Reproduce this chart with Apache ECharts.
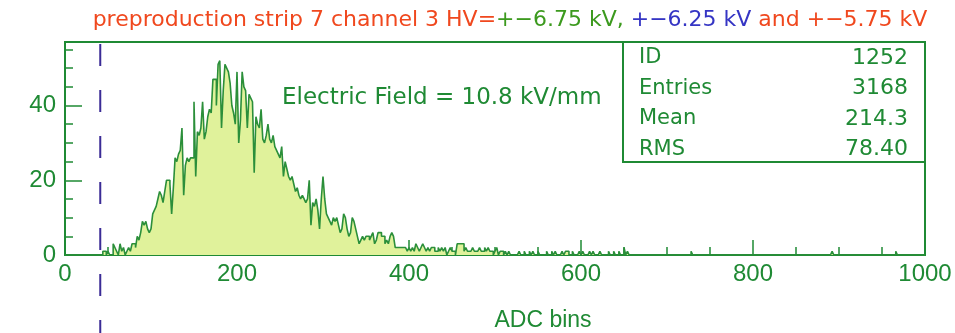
<!DOCTYPE html>
<html><head><meta charset="utf-8">
<script src="https://cdn.jsdelivr.net/npm/echarts@6/dist/echarts.min.js"></script>
<style>html,body{margin:0;padding:0;background:#fff}#c{width:955px;height:333px}</style>
</head><body><div id="c"></div>
<script>
// ---- data ----
const binWidth = 2;          // ADC units per bin
const xRange = [0, 1000];
const yRange = [0, 57];
const xLabelTicks = [0, 200, 400, 600, 800, 1000];
const yLabelTicks = [0, 20, 40];
const cutValue = 41;         // dashed vertical line position (ADC)
const counts = [
  0,0,0,0,0,0,0,0,0,0,
  0,0,0,0,0,0,0,0,0,0,
  0,0,1,1,0,1,0,0,3,2,
  1,0,3,1,2,0,1,2,1,3,
  3,2,5,4,6,9,8,9,7,6,
  7,11,12,13,15,17,16,14,17,20,
  20,19,11,18,26,25,27,28,34,16,
  24,26,25,26,26,41,21,33,32,34,
  41,31,33,37,39,38,47,47,40,51,
  52,34,44,51,50,49,46,40,38,35,
  49,30,36,49,45,44,34,43,42,41,
  22,37,35,34,39,31,30,32,35,31,
  30,32,29,28,27,26,29,21,25,23,
  21,20,21,19,17,18,16,15,16,15,
  14,15,20,8,14,13,15,12,7,15,
  21,15,11,10,9,8,10,9,10,8,
  6,7,11,10,7,5,6,10,9,7,
  5,3,4,5,4,5,5,4,5,6,
  3,4,6,6,5,5,3,4,3,5,
  6,5,2,2,2,2,2,2,2,1,
  2,1,2,1,3,2,1,2,3,2,
  1,2,1,2,2,1,1,2,1,2,
  1,2,0,1,2,1,1,0,3,3,
  3,3,1,2,1,1,1,2,1,1,
  1,2,1,1,2,1,2,1,1,0,
  1,2,0,1,1,0,1,0,1,0,
  0,0,0,0,1,0,0,1,0,0,
  1,0,1,0,0,1,0,0,0,0,
  1,0,0,1,0,1,0,0,0,1,
  0,1,1,0,0,1,0,0,0,1,
  0,1,0,0,0,1,0,1,0,0,
  0,1,0,0,0,0,1,0,0,1,
  0,0,1,0,0,2,0,1,0,0,
  0,0,0,0,0,0,0,0,0,0,
  0,0,0,0,0,0,0,0,0,0,
  0,0,0,0,0,0,0,0,0,0,
  0,0,0,0,1,0,0,0,0,0,
  0,0,0,0,0,0,0,0,0,0,
  0,0,0,0,0,0,0,0,0,0,
  0,0,0,0,0,0,0,0,0,0,
  0,0,0,0,0,0,0,0,0,0,
  0,0,0,0,0,0,0,0,0,0,
  0,0,0,0,0,0,0,0,0,0,
  0,0,0,0,0,0,0,0,0,0,
  0,0,0,0,0,0,1,0,0,0,
  0,0,0,0,0,0,0,0,0,0,
  0,0,0,0,0,0,0,0,0,0,
  0,0,0,0,0,0,0,0,0,0,
  0,0,0,1,0,0,0,0,0,0,
  0,0,0,0,0,0,0,0,0,0
];
const statLabels = ['ID', 'Entries', 'Mean', 'RMS'];
const statValues = ['1252', '3168', '214.3', '78.40'];
const titleParts = [
  ['preproduction strip 7 channel 3 HV=', 'r'],
  ['+\u22126.75 kV,', 'g'],
  [' +\u22126.25 kV', 'b'],
  [' and +\u22125.75 kV', 'r']
];
const fieldText = 'Electric Field = 10.8 kV/mm';
const xAxisName = 'ADC bins';

// ---- style ----
const GREEN = '#1f8a34';
const FILL = '#e0f29b';
const LINE = '#2b8f3a';
const DASH = '#3b2c96';
const G = {left: 65, right: 30, top: 42, bottom: 78};
const W = 955, H = 333;
const txtFont = '"DejaVu Sans", sans-serif';
const numFont = '"Liberation Sans", Arial, sans-serif';

const seriesData = counts.map((c, i) => [xRange[0] + i * binWidth, c]);
seriesData.push([xRange[0] + counts.length * binWidth, counts[counts.length - 1]]);

const chart = echarts.init(document.getElementById('c'), null, {renderer: 'canvas'});

const gridRight = W - G.right;
const boxW = 302, boxH = 120;
const boxX = gridRight - boxW;
const statChildren = [{
  type: 'rect', shape: {x: boxX, y: G.top, width: boxW, height: boxH},
  style: {fill: '#fff', stroke: GREEN, lineWidth: 2}
}];
statLabels.forEach((l, i) => {
  const y = G.top + 16 + i * 30.5;
  statChildren.push({type: 'text', x: boxX + 16, y: y,
    style: {text: l, fill: GREEN, font: '21px ' + txtFont, textVerticalAlign: 'middle', textAlign: 'left'}});
  statChildren.push({type: 'text', x: gridRight - 17, y: y,
    style: {text: statValues[i], fill: GREEN, font: '22px ' + txtFont, textVerticalAlign: 'middle', textAlign: 'right'}});
});

const fmt = v => String(v);

function graphics(cutX) {
  const g = [
    {type: 'text', x: 282, y: G.top + 56, z: 10,
      style: {text: fieldText, fill: GREEN, font: '23px ' + txtFont, textVerticalAlign: 'middle'}},
    {type: 'text', x: 543, y: 321, z: 10,
      style: {text: xAxisName, fill: GREEN, font: '23px ' + numFont, textAlign: 'center', textVerticalAlign: 'middle'}},
    {type: 'group', z: 20, children: statChildren}
  ];
  if (cutX != null) {
    g.push({type: 'line', z: 15, shape: {x1: cutX, y1: G.top + 2, x2: cutX, y2: H},
      style: {stroke: DASH, lineWidth: 2, lineDash: [22, 24]}});
  }
  return g;
}

chart.setOption({
  animation: false,
  backgroundColor: '#fff',
  title: {
    text: titleParts.map(p => '{' + p[1] + '|' + p[0] + '}').join(''),
    left: 505, top: 4, textAlign: 'center',
    textStyle: {fontWeight: 'normal', rich: {
      r: {color: '#f0481e', fontSize: 22, fontFamily: txtFont, fontWeight: 'normal'},
      g: {color: '#3c9a1e', fontSize: 22, fontFamily: txtFont, fontWeight: 'normal'},
      b: {color: '#3535c4', fontSize: 22, fontFamily: txtFont, fontWeight: 'normal'}
    }}
  },
  grid: {left: G.left, right: G.right, top: G.top, bottom: G.bottom, show: true,
    borderColor: GREEN, borderWidth: 2, backgroundColor: 'transparent'},
  xAxis: [{
    type: 'value', min: xRange[0], max: xRange[1], interval: 200,
    axisLine: {show: true, lineStyle: {color: GREEN, width: 2}},
    axisTick: {show: true, inside: true, length: 15, lineStyle: {color: GREEN, width: 1.5}},
    minorTick: {show: true, splitNumber: 4, length: 8, lineStyle: {color: GREEN, width: 1.5}},
    splitLine: {show: false},
    axisLabel: {color: GREEN, fontSize: 24, fontFamily: numFont, margin: 7,
      customValues: xLabelTicks, formatter: fmt}
  }],
  yAxis: [{
    type: 'value', min: yRange[0], max: yRange[1], interval: 5,
    axisLine: {show: true, lineStyle: {color: GREEN, width: 2}},
    axisTick: {show: true, inside: true, length: 8, lineStyle: {color: GREEN, width: 1.5}},
    splitLine: {show: false},
    axisLabel: {color: GREEN, fontSize: 24, fontFamily: numFont, margin: 9,
      customValues: yLabelTicks, formatter: fmt}
  }, {
    type: 'value', min: yRange[0], max: yRange[1], interval: 20, position: 'left',
    axisLine: {show: false},
    axisTick: {show: true, inside: true, length: 17, lineStyle: {color: GREEN, width: 1.5}},
    splitLine: {show: false},
    axisLabel: {show: false}
  }],
  series: [{
    type: 'line', step: 'end', data: seriesData, yAxisIndex: 0,
    symbol: 'none', showSymbol: false,
    lineStyle: {color: LINE, width: 1.6},
    areaStyle: {color: FILL, opacity: 1, origin: 'start'},
    z: 1
  }],
  graphic: graphics(null)
});

const cutX = chart.convertToPixel({xAxisIndex: 0}, cutValue);
chart.setOption({graphic: graphics(cutX)}, {replaceMerge: ['graphic']});
</script></body></html>
